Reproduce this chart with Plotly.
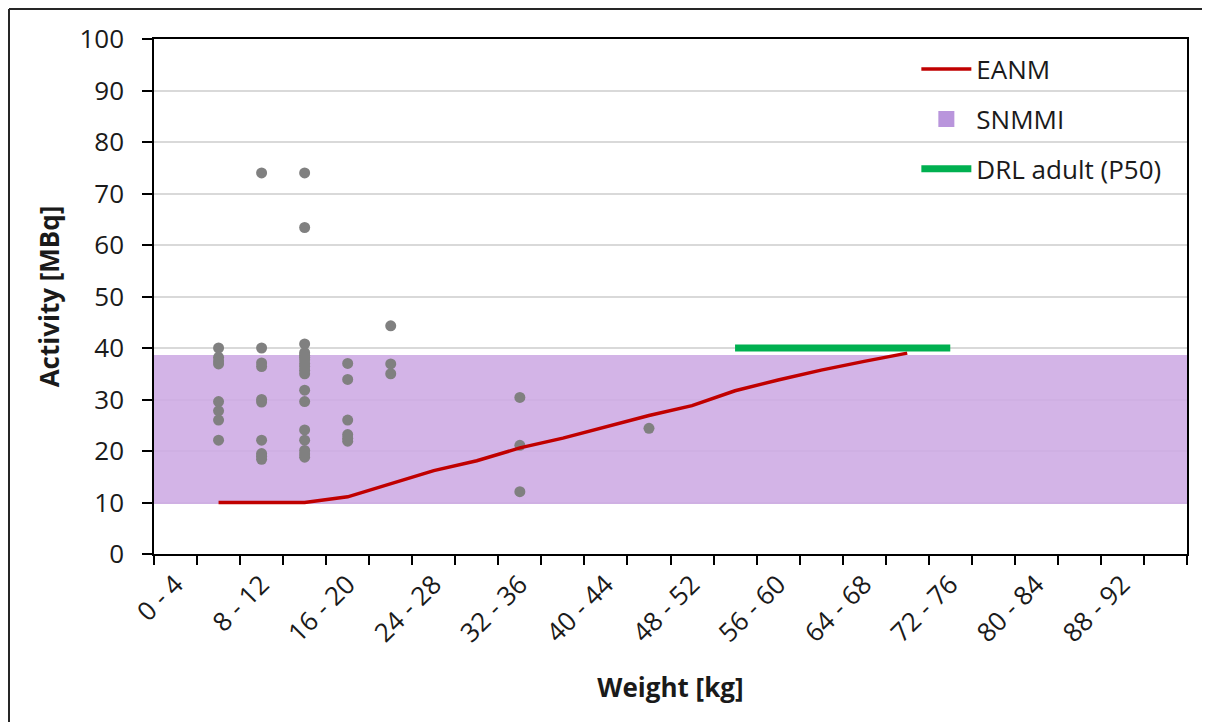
import plotly.graph_objects as go

# ---- data ----
weight_classes = ["0 - 4", "4 - 8", "8 - 12", "12 - 16", "16 - 20", "20 - 24",
                  "24 - 28", "28 - 32", "32 - 36", "36 - 40", "40 - 44", "44 - 48",
                  "48 - 52", "52 - 56", "56 - 60", "60 - 64", "64 - 68", "68 - 72",
                  "72 - 76", "76 - 80", "80 - 84", "84 - 88", "88 - 92", "92 - 96"]
tick_labels = [c if i % 2 == 0 else "" for i, c in enumerate(weight_classes)]

# observed administered activities (patient weight class, MBq)
obs_class = (["4 - 8"] * 8 + ["8 - 12"] * 10 + ["12 - 16"] * 18 + ["16 - 20"] * 6
             + ["20 - 24"] * 3 + ["32 - 36"] * 3 + ["44 - 48"] * 1)
obs_activity = [40.0, 38.2, 37.5, 36.9, 29.6, 27.8, 26.0, 22.1,
                74.0, 40.0, 37.1, 36.4, 30.0, 29.5, 22.1, 19.5, 19.0, 18.4,
                74.0, 63.4, 40.8, 39.1, 38.6, 38.2, 37.7, 37.0, 36.4, 35.7, 35.0,
                31.8, 29.6, 24.1, 22.1, 20.1, 19.4, 18.8,
                37.0, 33.9, 26.0, 23.2, 22.5, 21.9,
                44.3, 36.9, 35.0,
                30.4, 21.1, 12.1,
                24.4]

eanm_classes = weight_classes[1:18]
eanm_activity = [10, 10, 10, 11.1, 13.7, 16.2, 18.1, 20.6, 22.5, 24.7,
                 26.9, 28.8, 31.7, 33.8, 35.7, 37.4, 39.0]

snmmi_low = [9.8] * len(weight_classes)
snmmi_high = [38.7] * len(weight_classes)

drl_classes = weight_classes[13:19]
drl_activity = [40] * len(drl_classes)

FONT = "Open Sans"
FS = 26
W, H = 1202, 714
ML, MR, MT, MB = 146, 23, 31, 168
PW, PH = W - ML - MR, H - MT - MB

fig = go.Figure()

fig.add_trace(go.Bar(
    x=weight_classes, base=snmmi_low,
    y=[h - l for h, l in zip(snmmi_high, snmmi_low)],
    width=1, name="SNMMI", showlegend=False,
    marker=dict(color="rgba(205,170,228,0.88)", line=dict(width=0)),
    hoverinfo="skip"))

fig.add_trace(go.Scatter(
    x=obs_class, y=obs_activity, mode="markers", showlegend=False,
    marker=dict(color="#808080", size=11, line=dict(width=0))))

fig.add_trace(go.Scatter(
    x=eanm_classes, y=eanm_activity, mode="lines", name="EANM",
    legendgroup="a", legendrank=1,
    line=dict(color="#C00000", width=3.5)))

# legend key for the SNMMI band
fig.add_trace(go.Scatter(
    x=[None], y=[None], mode="markers", name="SNMMI",
    legendgroup="b", legendrank=2,
    marker=dict(symbol="square", color="#B995DC", size=16, line=dict(width=0))))

fig.add_trace(go.Scatter(
    x=drl_classes, y=drl_activity, mode="lines", name="DRL adult (P50)",
    legendgroup="c", legendrank=3,
    line=dict(color="#00B050", width=7)))

x_left = -(ML - 1) / PW
y_top = 1 + (MT - 1) / PH
frame = dict(line=dict(color="#262626", width=2), layer="below",
             xref="paper", yref="paper", type="line")

fig.update_layout(
    width=W, height=H,
    margin=dict(l=ML, r=MR, t=MT, b=MB, autoexpand=False),
    paper_bgcolor="white", plot_bgcolor="white",
    font=dict(family=FONT, size=FS, color="#1a1a1a"),
    bargap=0,
    legend=dict(x=0.738, y=0.987, xanchor="left", yanchor="top",
                bgcolor="rgba(0,0,0,0)", font=dict(size=FS),
                traceorder="grouped", tracegroupgap=13, itemwidth=50),
    shapes=[dict(frame, x0=x_left, x1=x_left, y0=-(MB + 10) / PH, y1=y_top),
            dict(frame, x0=x_left, x1=(W - ML + 10) / PW, y0=y_top, y1=y_top)],
)

fig.update_xaxes(
    type="category", categoryorder="array", categoryarray=weight_classes,
    range=[-0.5, len(weight_classes) - 0.5], automargin=False,
    tickmode="array", tickvals=weight_classes, ticktext=tick_labels,
    tickson="boundaries", ticks="outside", ticklen=9, tickwidth=1.5,
    tickcolor="black", tickangle=-45, tickfont=dict(size=FS),
    ticklabelstandoff=3,
    showline=True, linecolor="black", linewidth=1.5, mirror=True,
    showgrid=False, zeroline=False,
    title=dict(text="<b>Weight [kg]</b>", font=dict(size=FS), standoff=30))

fig.update_yaxes(
    range=[0, 100], dtick=10, tick0=0, automargin=False,
    ticks="outside", ticklen=10, tickwidth=1.5, tickcolor="black",
    ticklabelstandoff=13,
    showline=True, linecolor="black", linewidth=1.5, mirror=True,
    showgrid=True, gridcolor="#D9D9D9", gridwidth=1.5, zeroline=False,
    tickfont=dict(size=FS),
    title=dict(text="<b>Activity [MBq]</b>", font=dict(size=FS), standoff=12))

fig.write_html("out.html")
